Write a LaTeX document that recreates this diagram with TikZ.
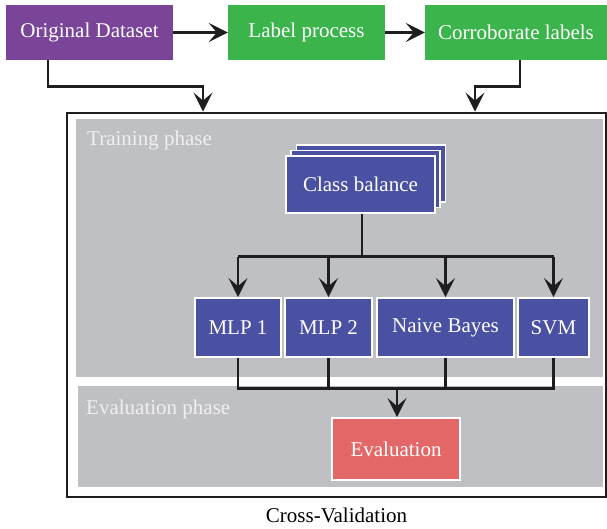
\documentclass[tikz,border=0pt]{standalone}
\usepackage{fontspec}
\setmainfont{Liberation Serif}
\usetikzlibrary{arrows.meta,positioning,calc}
\definecolor{cpurple}{HTML}{7A4599}
\definecolor{cgreen}{HTML}{3AB44B}
\definecolor{cblue}{HTML}{4A50A2}
\definecolor{cred}{HTML}{E46767}
\definecolor{cgray}{HTML}{BFC0C3}
\definecolor{cline}{HTML}{1E1E1E}
\tikzset{
  box/.style={draw=white, line width=1.8pt, text=white, inner sep=0pt, font=\fontsize{21}{25}\selectfont},
  topbox/.style={fill=#1, text=white, inner sep=0pt, minimum height=55pt, font=\fontsize{21}{25}\selectfont},
  arr/.style={draw=cline, line width=2.6pt, -{Stealth[length=19pt,width=19pt,inset=8pt]}},
  conn/.style={draw=cline, line width=2.6pt},
  phase/.style={text=white!94!black, anchor=base west, inner sep=0pt, font=\fontsize{21}{25}\selectfont},
}
\begin{document}
\begin{tikzpicture}[x=1pt,y=-1pt]
\useasboundingbox (0,0) rectangle (607,529);
% top row
\node[topbox=cpurple, minimum width=167pt] (od) at (89.5,32.5) {Original Dataset};
\node[topbox=cgreen, minimum width=157pt] (lp) at (306.5,32.5) {Label process};
\node[topbox=cgreen, minimum width=182pt] (cl) at (516,32.5) {Corroborate labels};
% frame
\node[draw=cline, line width=2.8pt, minimum width=539pt, minimum height=384pt, inner sep=0pt] (frame) at (336.5,305) {};
\fill[cgray] (76,119) rectangle (603,377);
\fill[cgray] (78,386) rectangle (603,487);
\node[phase] (tp) at (87,146) {Training phase};
\node[phase] (ep) at (86,414) {Evaluation phase};
% class balance stack
\node[box, fill=cblue, minimum width=149pt, minimum height=57pt] (cb3) at (371,173.5) {};
\node[box, fill=cblue, minimum width=149pt, minimum height=57pt] (cb2) at (365.75,179) {};
\node[box, fill=cblue, minimum width=149pt, minimum height=57pt] (cb) at (360.5,184.5) {Class balance};
% models
\node[box, fill=cblue, minimum width=86pt, minimum height=59pt] (m1) at (238,327.5) {MLP 1};
\node[box, fill=cblue, minimum width=87pt, minimum height=59pt] (m2) at (328.5,327.5) {MLP 2};
\node[box, fill=cblue, minimum width=137pt, minimum height=59pt] (nb) at (445.5,327.5) {Naive Bayes};
\node[box, fill=cblue, minimum width=71pt, minimum height=59pt] (svm) at (553.5,327.5) {SVM};
\node[box, fill=cred, minimum width=128pt, minimum height=62pt] (ev) at (396,449) {Evaluation};
\node[font=\fontsize{21}{25}\selectfont, inner sep=0pt, anchor=base] (cv) at (336.5,522) {Cross-Validation};
% connectors top
\coordinate (j1) at (203,86.5);
\coordinate (j2) at (475,86.5);
\coordinate (h1) at (0,256.5);
\coordinate (h2) at (0,388.5);
\draw[arr] (od) -- (lp);
\draw[arr] (lp) -- (cl);
\draw[arr] ([xshift=-41.5pt]od.south) |- (j1) -- (j1 |- frame.north);
\draw[arr] ([xshift=4pt]cl.south) |- (j2) -- (j2 |- frame.north);
% class balance to models
\draw[conn] ([xshift=1.5pt]cb.south) -- ([xshift=1.5pt]cb.south |- h1);
\draw[conn] (m1.north |- h1) -- (svm.north |- h1);
\draw[arr] (m1.north |- h1) -- (m1.north);
\draw[arr] (m2.north |- h1) -- (m2.north);
\draw[arr] (nb.north |- h1) -- (nb.north);
\draw[arr] (svm.north |- h1) -- (svm.north);
% models to evaluation
\draw[conn] (m1.south) -- (m1.south |- h2) -- (svm.south |- h2) -- (svm.south);
\draw[conn] (m2.south) -- (m2.south |- h2);
\draw[conn] (nb.south) -- (nb.south |- h2);
\draw[arr] ([xshift=1pt]ev.north |- h2) -- ([xshift=1pt]ev.north);
\end{tikzpicture}
\end{document}
